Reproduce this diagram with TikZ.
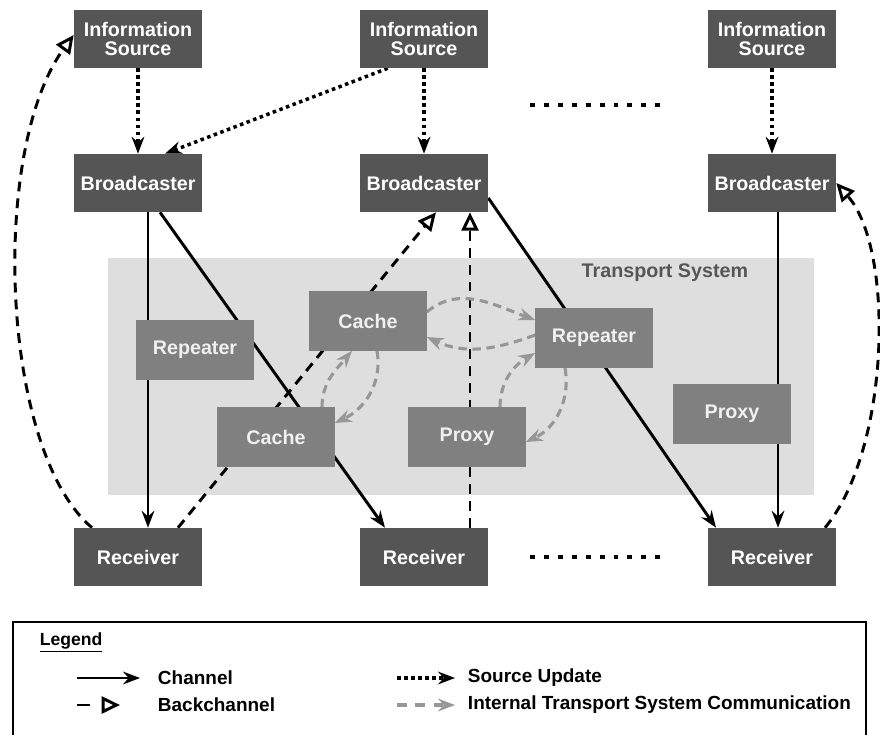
\documentclass[tikz,border=0pt]{standalone}
\usepackage{fontspec}
\setmainfont{Liberation Sans}
\usetikzlibrary{positioning,arrows.meta,backgrounds}
\usepackage{xcolor}
\definecolor{darkbox}{HTML}{555555}
\definecolor{midbox}{HTML}{808080}
\definecolor{tsback}{HTML}{DEDEDE}
\definecolor{tstext}{HTML}{565656}
\definecolor{intgray}{HTML}{979797}
\pgfdeclarelayer{bottom}
\pgfsetlayers{bottom,background,main}

\begin{document}
\begin{tikzpicture}[
    x=0.025cm, y=-0.025cm,
    font=\fontsize{14}{13}\selectfont\bfseries,
    unit/.style={
        rectangle, fill=darkbox, text=white, inner sep=0pt,
        minimum width=3.2cm, minimum height=1.45cm, align=center
    },
    relay/.style={
        rectangle, fill=midbox, text=white!94!black, inner sep=0pt,
        minimum width=2.925cm, minimum height=1.475cm
    },
    channel/.style={-{Stealth[length=12pt,width=9pt,inset=4pt]}, line width=2.1pt},
    backch/.style={-{Triangle[open,length=13pt,width=12pt]},
        line width=2.1pt, dash pattern=on 7pt off 5pt},
    update/.style={-{Stealth[length=12pt,width=9pt,inset=4pt]},
        line width=2.5pt, dash pattern=on 2.5pt off 2.5pt},
    internal/.style={-{Stealth[length=12pt,width=9pt,inset=4pt]}, draw=intgray,
        line width=2.2pt, dash pattern=on 6pt off 4pt},
    ellipsis/.style={line width=3.5pt, dash pattern=on 3.5pt off 6.4pt},
    lbl/.style={anchor=west, font=\fontsize{13.5}{14}\selectfont\bfseries}
]
\useasboundingbox (0,0) rectangle (880,735);

% Transport system area
\begin{pgfonlayer}{bottom}
\fill[tsback] (108,258) rectangle (814,495);
\end{pgfonlayer}
\node[text=tstext, anchor=east] (tslabel) at (753,273) {Transport System};

% Information sources
\node[unit] (is1) at (138,39) {Information\\Source};
\node[unit] (is2) at (424,39) {Information\\Source};
\node[unit] (is3) at (772,39) {Information\\Source};

% Broadcasters
\node[unit] (bc1) at (138,183) {Broadcaster};
\node[unit] (bc2) at (424,183) {Broadcaster};
\node[unit] (bc3) at (772,183) {Broadcaster};

% Receivers
\node[unit] (rc1) at (138,557) {Receiver};
\node[unit] (rc2) at (424,557) {Receiver};
\node[unit] (rc3) at (772,557) {Receiver};

% Transport system elements
\node[relay] (rep1) at (195,350) {Repeater};
\node[relay] (cacheA) at (368,321) {Cache};
\node[relay] (cacheB) at (276,437) {Cache};
\node[relay] (proxyA) at (467,437) {Proxy};
\node[relay] (rep2) at (594,338) {Repeater};
\node[relay] (proxyB) at (732,414) {Proxy};

% Columns left out
\coordinate (gapA) at (530,105);
\coordinate (gapB) at (665,105);
\coordinate (gapC) at (530,557);
\coordinate (gapD) at (665,557);
\draw[ellipsis] (gapA) -- (gapB);
\draw[ellipsis] (gapC) -- (gapD);

\begin{pgfonlayer}{background}
% Source updates
\draw[update] (is1.south) -- (bc1.north);
\draw[update] (is2.south) -- (bc2.north);
\draw[update] (is3.south) -- (bc3.north);
\draw[update] ([shift={(28,0)}]is2.south west) -- ([shift={(27,0)}]bc1.north);

% Channels
\draw[channel] ([shift={(10,0)}]bc1.south) -- ([shift={(10,0)}]rc1.north);
\draw[channel] ([shift={(22,0)}]bc1.south) -- ([shift={(-39,0)}]rc2.north);
\draw[channel] ([shift={(0,15)}]bc2.east) -- ([shift={(-56,0)}]rc3.north);
\draw[channel] ([shift={(6,0)}]bc3.south) -- ([shift={(6,0)}]rc3.north);

% Backchannels
\draw[backch] ([shift={(-46,0)}]rc1.north) .. controls (0,450) and (-10,150)
    .. ([shift={(0,-4)}]is1.west);
\draw[backch] ([shift={(40,0)}]rc1.north) -- ([shift={(12,0)}]bc2.south);
\draw[backch] ([shift={(46,0)}]rc2.north) -- ([shift={(46,0)}]bc2.south);
\draw[backch] ([shift={(53,0)}]rc3.north) .. controls (890,450) and (895,250)
    .. (bc3.east);

% Internal communication
\draw[internal] ([shift={(0,-9)}]cacheA.east) to[out=40,in=160]
    ([shift={(0,-18)}]rep2.west);
\draw[internal] ([shift={(0,-3)}]rep2.west) to[out=200,in=-25]
    ([shift={(0,16)}]cacheA.east);
\draw[internal] ([shift={(46,0)}]cacheB.north) to[out=90,in=-130]
    ([shift={(-16,0)}]cacheA.south);
\draw[internal] ([shift={(9,0)}]cacheA.south) to[out=-80,in=25]
    ([shift={(0,-14)}]cacheB.east);
\draw[internal] ([shift={(33,0)}]proxyA.north) to[out=90,in=-150]
    ([shift={(0,15)}]rep2.west);
\draw[internal] ([shift={(-29,0)}]rep2.south) to[out=-80,in=25]
    ([shift={(0,5)}]proxyA.east);
\end{pgfonlayer}

% Legend
\draw[line width=1.4pt] (13,622) rectangle (866,760);
\node[lbl, font=\fontsize{12.5}{13}\selectfont\bfseries] (lgtitle) at (35,642)
    {\underline{Legend}};
\coordinate (lgA1) at (77,678);  \coordinate (lgA2) at (140,678);
\coordinate (lgB1) at (77,705);  \coordinate (lgB2) at (120,705);
\coordinate (lgC1) at (397,678); \coordinate (lgC2) at (455,678);
\coordinate (lgD1) at (397,705); \coordinate (lgD2) at (455,705);
\draw[channel] (lgA1) -- (lgA2);
\draw[backch, dash pattern=on 9pt off 30pt] (lgB1) -- (lgB2);
\draw[update] (lgC1) -- (lgC2);
\draw[internal, dash pattern=on 7pt off 6pt] (lgD1) -- (lgD2);
\node[lbl] (lgch) at (153,678) {Channel};
\node[lbl] (lgbk) at (153,705) {Backchannel};
\node[lbl] (lgup) at (463,678) {Source Update};
\node[lbl] (lgin) at (463,705) {Internal Transport System Communication};

\end{tikzpicture}
\end{document}
